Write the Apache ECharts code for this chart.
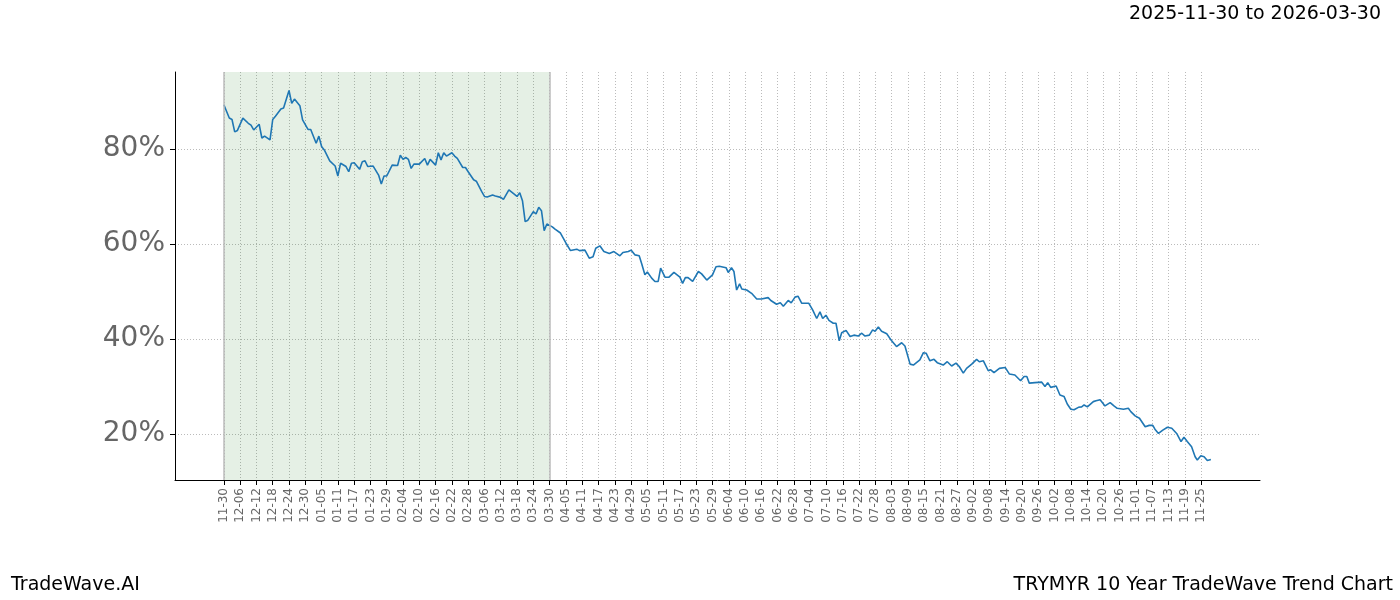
<!DOCTYPE html>
<html>
<head>
<meta charset="utf-8">
<script src="https://cdn.jsdelivr.net/npm/echarts@6/dist/echarts.min.js"></script>
<style>html,body{margin:0;padding:0;background:#fff}#chart{width:1400px;height:600px}</style>
</head>
<body>
<div id="chart"></div>
<script>
// day offsets from 2025-11-30 and trend values (%)
let days = [0,2,3,4,5,7,9,10,11,13,14,15,17,18,19,21,22,24,25,26,28,29,31,32,34,35,36,37,39,41,42,43,45,46,47,48,50,51,52,53,55,57,58,59,60,62,64,65,66,67,68,69,70,72,74,75,76,78,79,80,81,82,84,85,86,88,89,90,92,93,95,96,97,99,100,102,103,105,108,109,110,111,112,114,115,116,117,118,119,121,122,124,126,127.7,
  130,131,133,134.6,136,137,138.5,140,142,143.7,145.9,147,149,150,151.4,153,153.9,155.1,156,157.6,158.8,160,160.9,162.5,164,165.8,168,169,170,171,172.7,174.8,176,177.9,180,181.3,182.5,185,185.8,187,187.9,188.9,190,190.8,192.6,194.4,196.3,198,200.5,201.5,203.6,205,206.1,207.9,209,210.4,211.5,212.9,215.5,216.9,218.4,219.6,220.6,221.8,222.9,224.5,225.5,226.7,227.6,229.2,230.7,232.1,233.7,235,236.2,237.8,239,239.9,241.1,
  242.3,244.2,246,247.8,249.7,250.9,252.8,254,256.4,257.7,258.7,260.1,261.6,262.8,265,266.5,268.1,269.7,270.9,272.4,273.6,275.5,277.3,278.3,279.8,281.6,282.5,283.7,285.7,287.8,289.4,291.4,293.5,294.8,295.8,296.7,298.8,301.3,302.5,303.5,304.6,306.6,308,309.5,310.7,312,313.2,314.8,316,316.9,318.1,320.3,321.3,322.8,324.6,326.5,327.9,329.1,331.4,333.2,334.1,335.7,337.3,339.4,340.9,342.2,343,344.3,345.9,347.6,349.2,351,352.6,353.7,354.9,356.5,357.8,358.6,359.9,361.1,362.3,363.6]
let values = [89.3,86.5,86.2,83.6,83.9,86.5,85.4,85,84,85.2,82.3,82.7,81.9,86.2,86.9,88.4,88.6,92.3,89.6,90.5,89.1,86.1,84.1,84.1,81.2,82.7,80.5,79.8,77.5,76.4,74.3,77,76.3,75.2,77,77.1,75.7,77.3,77.5,76.3,76.4,74.5,72.6,74.3,74.3,76.6,76.5,78.7,77.8,78.2,77.8,75.9,76.8,76.8,78,76.6,77.8,76.6,79.2,77.7,79.2,78.5,79.2,78.5,78,76.1,76.1,75.2,73.5,73.2,71,70,69.9,70.3,70.1,69.8,69.4,71.4,70,70.8,69.1,64.7,65,66.8,66.3,67.7,67,62.8,64.2,63.6,63.1,62.3,60.2,58.6,
  58.9,58.6,58.7,57,57.3,59.1,59.6,58.4,58,58.4,57.5,58.2,58.4,58.7,57.7,57.5,55.9,53.5,54.1,52.8,52.1,52.1,54.9,53,53,54,53,51.7,52.9,52.9,52.1,54.2,53.7,52.4,53.5,55.2,55.3,55,54,55,54.2,50.3,51.6,50.5,50.3,49.6,48.4,48.4,48.7,48.1,47.3,47.6,46.9,48.1,47.6,48.8,49,47.5,47.5,46.1,44.3,45.7,44.3,45,43.9,43.3,43.3,39.6,41.3,41.8,40.5,40.8,40.6,41.2,40.6,40.8,41.9,41.6,42.5,
  41.6,41.1,39.6,38.4,39.2,38.5,34.7,34.5,35.6,37.1,37,35.4,35.7,35,34.5,35.2,34.3,34.9,34.2,32.8,33.8,34.7,35.7,35.2,35.4,33.3,33.5,32.9,33.8,34,32.6,32.4,31.2,32.1,32.1,30.7,30.8,30.9,30,30.8,29.8,30.1,28.2,27.9,26.3,25.2,25.1,25.6,25.7,26.1,25.7,26.8,27,27.2,25.9,26.6,25.9,25.4,25.2,25.4,24.7,23.8,23.3,21.5,21.8,21.8,21,20.1,20.8,21.4,21.2,20.1,18.4,19.3,18.4,17.3,15.2,14.5,15.4,15.2,14.4,14.6]
let yTicks = [20, 40, 60, 80]
let tickDays = []
for (let d = 0; d <= 360; d += 6) tickDays.push(d)
let shadeStart = 0
let shadeEnd = 120

function dayLabel(d) {
  let t = new Date(Date.UTC(2025, 10, 30) + d * 86400000)
  let m = String(t.getUTCMonth() + 1).padStart(2, '0')
  let dd = String(t.getUTCDate()).padStart(2, '0')
  return m + '-' + dd
}

let chart = echarts.init(document.getElementById('chart'))
let grey = '#aaa'
let txt = { fontFamily: 'DejaVu Sans', fontSize: 19, fontWeight: 'normal', color: '#000' }
chart.setOption({
  animation: false,
  grid: { left: 175, right: 140, top: 72, bottom: 120 },
  title: [
    { text: '2025-11-30 to 2026-03-30', right: 14, top: 0, textStyle: txt },
    { text: 'TradeWave.AI', left: 6, bottom: 0, textStyle: txt },
    { text: 'TRYMYR 10 Year TradeWave Trend Chart', right: 2, bottom: 0, textStyle: txt }
  ],
  xAxis: {
    type: 'value', min: -18, max: 381.7,
    axisLine: { onZero: false, lineStyle: { color: '#000' } },
    axisTick: { customValues: tickDays, length: 5, lineStyle: { color: '#000' } },
    axisLabel: { customValues: tickDays, rotate: 90, fontSize: 12, color: '#666', fontFamily: 'DejaVu Sans', formatter: v => dayLabel(v) },
    splitLine: { show: true, lineStyle: { color: grey, type: [1, 2], width: 0.8 } }
  },
  yAxis: {
    type: 'value', min: 10.3, max: 96.2,
    axisLine: { show: true, onZero: false, lineStyle: { color: '#000' } },
    axisTick: { show: true, customValues: yTicks, length: 5, lineStyle: { color: '#000' } },
    axisLabel: { customValues: yTicks, fontSize: 28, margin: 10, color: '#666', fontFamily: 'DejaVu Sans', formatter: v => v + '%' },
    splitLine: { show: true, lineStyle: { color: grey, type: [1, 2], width: 0.8 } }
  },
  series: [{
    type: 'line',
    data: days.map((d, i) => [d, values[i]]),
    showSymbol: false,
    lineStyle: { color: '#1f77b4', width: 1.6 },
    markArea: {
      silent: true,
      itemStyle: { color: 'rgba(0,110,0,0.1)' },
      data: [[{ xAxis: shadeStart }, { xAxis: shadeEnd }]]
    },
    markLine: {
      silent: true, symbol: 'none', label: { show: false },
      lineStyle: { color: '#bbb', type: 'solid', width: 1.5 },
      data: [{ xAxis: shadeStart }, { xAxis: shadeEnd }]
    }
  }]
})
</script>
</body>
</html>
